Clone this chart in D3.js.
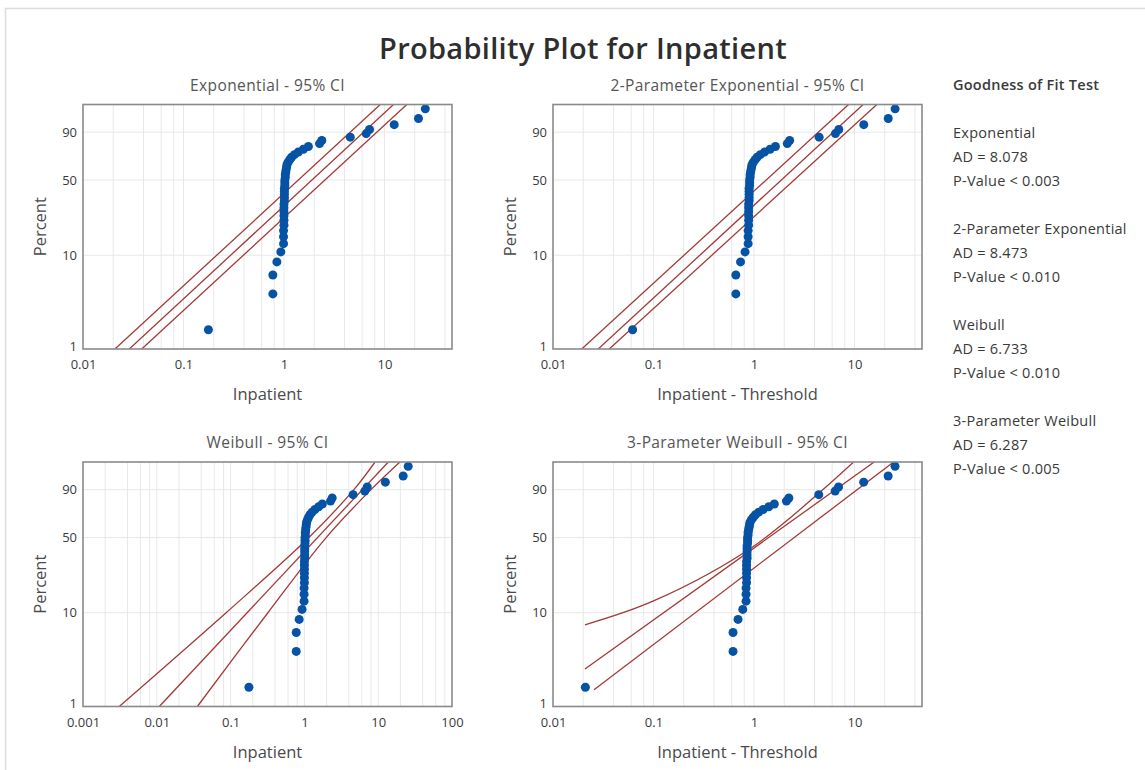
<!DOCTYPE html>
<html>
<head>
<meta charset="utf-8">
<script src="https://cdn.jsdelivr.net/npm/d3@7/dist/d3.min.js"></script>
<style>
  html, body { margin: 0; padding: 0; background: #ffffff; }
  svg { display: block; font-family: "Open Sans", "Noto Sans", sans-serif; }
</style>
</head>
<body>
<svg id="chart" width="1145" height="770"></svg>
<script>
// Inpatient observations, sorted ascending (n = 43)
const inpatient = [
  0.177, 0.775, 0.775, 0.85, 0.93,
  0.99, 0.99, 0.99, 1.0, 1.0, 1.0, 1.0, 1.0, 1.0, 1.01, 1.01, 1.01, 1.01,
  1.01, 1.02, 1.02, 1.02, 1.03, 1.03, 1.04, 1.05, 1.06, 1.07,
  1.10, 1.14, 1.19, 1.27, 1.39, 1.56, 1.75,
  2.26, 2.38, 4.57, 6.58, 7.10, 12.5, 21.8, 25.5
];

// Threshold estimates of the shifted fits
const exp2Threshold = 0.115;
const weib3Threshold = 0.156;

// Fitted lines and 95% confidence bands as [percent, x] pairs
const expLower  = [[1, 0.0208], [99, 9.08]];
const expFit    = [[1, 0.0289], [99, 12.3]];
const expUpper  = [[1, 0.0384], [99, 16.7]];

const exp2Lower = [[1, 0.0193], [99, 8.73]];
const exp2Fit   = [[1, 0.0282], [99, 12.2]];
const exp2Upper = [[1, 0.0363], [99, 16.7]];

const weibLower = [[1, 0.0031], [10, 0.087], [50, 1.15], [90, 4.68], [99, 9.06]];
const weibFit   = [[1, 0.0108], [99, 13.7]];
const weibUpper = [[1, 0.0354], [10, 0.32], [50, 1.97], [90, 7.98], [99, 19.7]];

const weib3Lower = [[7.5, 0.0208], [13.2, 0.1], [43, 1.0], [99, 9.8]];
const weib3Fit   = [[2.54, 0.0208], [99, 15.7]];
const weib3Upper = [[1.52, 0.0256], [99, 24.5]];

// Axis ticks
const percentTicks = [1, 10, 50, 90];
const percentGrid = [10, 50, 90];
const percentRange = [1, 99];
const xTicksA = [0.01, 0.1, 1, 10];
const xTickLabelsA = ["0.01", "0.1", "1", "10"];
const xTicksB = [0.001, 0.01, 0.1, 1, 10, 100];
const xTickLabelsB = ["0.001", "0.01", "0.1", "1", "10", "100"];
const gridMultiples = [1, 2, 4, 6, 8];

// Goodness of fit summary
const gofNames = ["Exponential", "2-Parameter Exponential", "Weibull", "3-Parameter Weibull"];
const gofAD = ["8.078", "8.473", "6.733", "6.287"];
const gofP = ["0.003", "0.010", "0.010", "0.005"];

const svg = d3.select("#chart");
const lineColor = "#a33a36";
const dotColor = "#0652a5";
const textColor = "#3a3a3a";

// outer frame
svg.append("path")
  .attr("d", "M5.5,770 L5.5,8.5 L1145,8.5")
  .attr("fill", "none").attr("stroke", "#dcdcdc").attr("stroke-width", 1.5);

svg.append("text")
  .attr("x", 583).attr("y", 59)
  .attr("text-anchor", "middle")
  .attr("font-size", 29).attr("font-weight", 600).attr("letter-spacing", 0.3)
  .attr("fill", "#2e2e2e")
  .text("Probability Plot for Inpatient");

// probability axis transform: log10(-ln(1 - p))
const wOf = p => Math.log10(-Math.log(1 - p / 100));
const medianRank = (i, n) => 100 * (i + 1 - 0.3) / (n + 0.4);

const panels = [
  { title: "Exponential - 95% CI", xLabel: "Inpatient", left: 83, top: 104.5,
    xDomain: [0.01, 47], ticks: xTicksA, tickLabels: xTickLabelsA,
    shift: 0, lines: [expLower, expFit, expUpper] },
  { title: "2-Parameter Exponential - 95% CI", xLabel: "Inpatient - Threshold", left: 553, top: 104.5,
    xDomain: [0.01, 47], ticks: xTicksA, tickLabels: xTickLabelsA,
    shift: exp2Threshold, lines: [exp2Lower, exp2Fit, exp2Upper] },
  { title: "Weibull - 95% CI", xLabel: "Inpatient", left: 83, top: 462,
    xDomain: [0.001, 100], ticks: xTicksB, tickLabels: xTickLabelsB,
    shift: 0, lines: [weibLower, weibFit, weibUpper] },
  { title: "3-Parameter Weibull - 95% CI", xLabel: "Inpatient - Threshold", left: 553, top: 462,
    xDomain: [0.01, 47], ticks: xTicksA, tickLabels: xTickLabelsA,
    shift: weib3Threshold, lines: [weib3Lower, weib3Fit, weib3Upper] }
];

const pw = 369, ph = 244.5;

panels.forEach((P, k) => {
  const g = svg.append("g");
  const x = d3.scaleLog().domain(P.xDomain).range([P.left, P.left + pw]);
  const y = d3.scaleLinear().domain(percentRange.map(wOf)).range([P.top + ph, P.top]);
  const clipId = "clip" + k;
  svg.append("clipPath").attr("id", clipId)
    .append("rect").attr("x", P.left).attr("y", P.top).attr("width", pw).attr("height", ph);

  // vertical grid
  const lo = Math.floor(Math.log10(P.xDomain[0])), hi = Math.ceil(Math.log10(P.xDomain[1]));
  const gridVals = [];
  for (let e = lo; e <= hi; e++) gridMultiples.forEach(m => {
    const v = m * Math.pow(10, e);
    if (v > P.xDomain[0] * 1.001 && v < P.xDomain[1] * 0.999) gridVals.push(v);
  });
  g.selectAll(".vg").data(gridVals).join("line")
    .attr("x1", d => x(d)).attr("x2", d => x(d))
    .attr("y1", P.top).attr("y2", P.top + ph)
    .attr("stroke", "#e8e8e8").attr("stroke-width", 1);
  g.selectAll(".hg").data(percentGrid).join("line")
    .attr("x1", P.left).attr("x2", P.left + pw)
    .attr("y1", d => y(wOf(d))).attr("y2", d => y(wOf(d)))
    .attr("stroke", "#e8e8e8").attr("stroke-width", 1);

  // fitted line and confidence bounds
  const lineGen = d3.line()
    .x(d => x(d[1])).y(d => y(wOf(d[0])))
    .curve(d3.curveCatmullRom.alpha(0.5));
  g.append("g").attr("clip-path", `url(#${clipId})`)
    .selectAll("path").data(P.lines).join("path")
    .attr("d", lineGen)
    .attr("fill", "none").attr("stroke", lineColor).attr("stroke-width", 1.3);

  // observations at median-rank plotting positions
  g.append("g").selectAll("circle").data(inpatient).join("circle")
    .attr("cx", d => x(d - P.shift))
    .attr("cy", (d, i) => y(wOf(medianRank(i, inpatient.length))))
    .attr("r", 4.5)
    .attr("fill", dotColor);

  // frame
  g.append("rect")
    .attr("x", P.left).attr("y", P.top).attr("width", pw).attr("height", ph)
    .attr("fill", "none").attr("stroke", "#8a8a8a").attr("stroke-width", 1.6);

  // axes
  const xa = g.append("g").attr("transform", `translate(0,${P.top + ph})`)
    .call(d3.axisBottom(x).tickValues(P.ticks).tickFormat((d, i) => P.tickLabels[i]).tickSize(0).tickPadding(11));
  const ya = g.append("g").attr("transform", `translate(${P.left},0)`)
    .call(d3.axisLeft(y).tickValues(percentTicks.map(wOf)).tickFormat((d, i) => percentTicks[i]).tickSize(0).tickPadding(6));
  [xa, ya].forEach(a => {
    a.select(".domain").remove();
    a.selectAll("text").attr("font-size", 13).attr("fill", textColor)
      .attr("font-family", "'Open Sans', sans-serif");
  });
  // lowest percent label sits just above the corner
  ya.selectAll("text").filter((d, i) => i === 0).attr("dy", "0.1em");

  g.append("text")
    .attr("x", P.left + pw / 2).attr("y", P.top - 14)
    .attr("text-anchor", "middle").attr("font-size", 15.5).attr("letter-spacing", 0.4).attr("fill", "#555")
    .text(P.title);
  g.append("text")
    .attr("x", P.left + pw / 2).attr("y", P.top + ph + 51)
    .attr("text-anchor", "middle").attr("font-size", 16.5).attr("fill", "#4a4a4a")
    .text(P.xLabel);
  g.append("text")
    .attr("transform", `translate(${P.left - 37},${P.top + ph / 2}) rotate(-90)`)
    .attr("text-anchor", "middle").attr("font-size", 16.5).attr("fill", "#4a4a4a")
    .text("Percent");
});

// goodness of fit block
const gof = svg.append("g").attr("font-size", 14.5).attr("letter-spacing", 0.25).attr("fill", textColor);
gof.append("text").attr("x", 953).attr("y", 90).attr("font-weight", 600).text("Goodness of Fit Test");
gofNames.forEach((name, i) => {
  const y0 = 137.5 + i * 96;
  gof.append("text").attr("x", 953).attr("y", y0).text(name);
  gof.append("text").attr("x", 953).attr("y", y0 + 24.5).text("AD = " + gofAD[i]);
  gof.append("text").attr("x", 953).attr("y", y0 + 48).text("P-Value < " + gofP[i]);
});
</script>
</body>
</html>
